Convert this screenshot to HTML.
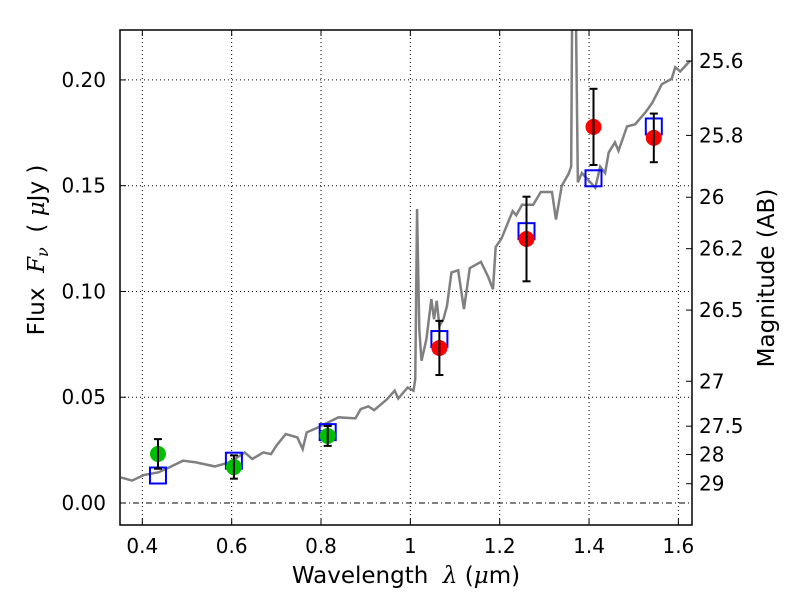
<!DOCTYPE html>
<html><head><meta charset="utf-8"><style>
body{margin:0;background:#fff;}
svg text{font-family:"DejaVu Sans","Liberation Sans",sans-serif;font-size:20px;fill:#000;}
svg text.title{font-size:23px;}
</style></head><body>
<svg id="chart" width="800" height="600" xmlns="http://www.w3.org/2000/svg"></svg>
<script>
const specLam=[0.352,0.377,0.403,0.436,0.461,0.491,0.520,0.562,0.596,0.629,0.646,0.671,0.688,0.700,0.721,0.747,0.759,0.768,0.793,0.839,0.877,0.889,0.906,0.919,0.948,0.965,0.973,0.994,1.007,1.011,1.015,1.020,1.025,1.036,1.047,1.053,1.059,1.065,1.074,1.082,1.092,1.107,1.120,1.133,1.158,1.174,1.185,1.191,1.204,1.229,1.237,1.250,1.275,1.292,1.317,1.326,1.339,1.354,1.360,1.363,1.369,1.375,1.384,1.403,1.414,1.425,1.436,1.444,1.458,1.466,1.485,1.503,1.526,1.541,1.563,1.585,1.593,1.604,1.626];
const specFlux=[0.0121,0.0106,0.0132,0.0145,0.0169,0.020,0.0192,0.0173,0.0192,0.0239,0.0208,0.0239,0.0231,0.0271,0.0326,0.031,0.0255,0.0334,0.0357,0.0405,0.040,0.0444,0.0457,0.0439,0.0491,0.0531,0.0494,0.0546,0.0531,0.0586,0.139,0.082,0.0672,0.0775,0.0964,0.0869,0.0956,0.0838,0.0869,0.0932,0.109,0.110,0.0917,0.111,0.114,0.107,0.101,0.121,0.125,0.138,0.136,0.141,0.141,0.147,0.147,0.134,0.150,0.1555,0.159,0.26,0.26,0.1516,0.156,0.1516,0.149,0.159,0.156,0.1657,0.1705,0.1665,0.178,0.179,0.1846,0.189,0.198,0.2005,0.206,0.204,0.209];
const modelLam=[0.435,0.605,0.815,1.065,1.26,1.41,1.545];
const modelFlux=[0.013,0.020,0.0335,0.0775,0.1285,0.1535,0.178];
const greenLam=[0.435,0.605,0.815];
const greenFlux=[0.0232,0.017,0.0317];
const greenErr=[0.007,0.0055,0.0047];
const redLam=[1.065,1.26,1.41,1.545];
const redFlux=[0.0733,0.1248,0.1778,0.1726];
const redErr=[0.0128,0.02,0.018,0.0115];
const xTicks=[0.4,0.6,0.8,1.0,1.2,1.4,1.6];
const xTickLabels=["0.4","0.6","0.8","1","1.2","1.4","1.6"];
const yTicks=[0,0.05,0.10,0.15,0.20];
const yTickLabels=["0.00","0.05","0.10","0.15","0.20"];
const magTicks=[25.6,25.8,26,26.2,26.5,27,27.5,28,29];
const magTickLabels=["25.6","25.8","26","26.2","26.5","27","27.5","28","29"];

const L=120,R=692,T=30,B=525,xmin=0.35,xmax=1.6305,ymin=-0.0104,ymax=0.2236;
const sx=v=>L+(v-xmin)/(xmax-xmin)*(R-L);
const sy=v=>B-(v-ymin)/(ymax-ymin)*(B-T);
const NS="http://www.w3.org/2000/svg";
const svg=document.getElementById('chart');
function mk(tag,attrs,parent){const e=document.createElementNS(NS,tag);for(const k in attrs)e.setAttribute(k,attrs[k]);(parent||svg).appendChild(e);return e;}

const defs=mk('defs',{});
const cp=mk('clipPath',{id:'clip'},defs);mk('rect',{x:L,y:T,width:R-L,height:B-T},cp);

const grid=mk('g',{});


xTicks.forEach(v=>{mk('line',{x1:sx(v),x2:sx(v),y1:T,y2:B,stroke:'#000','stroke-width':1,'stroke-dasharray':'1,3'},grid);});
yTicks.forEach(v=>{if(v!==0)mk('line',{x1:L,x2:R,y1:sy(v),y2:sy(v),stroke:'#000','stroke-width':1,'stroke-dasharray':'1,3'},grid);});
const zl=mk('line',{x1:L,x2:R,y1:sy(0),y2:sy(0),stroke:'#000','stroke-width':1,'stroke-dasharray':'6,3,1,3'});



const sp=mk('polyline',{points:specLam.map((l,i)=>sx(l)+','+sy(specFlux[i])).join(' '),fill:'none',stroke:'#808080','stroke-width':2.5,'clip-path':'url(#clip)'});



modelLam.forEach((l,i)=>{
 const r=mk('rect',{x:sx(l)-8,y:sy(modelFlux[i])-8,width:16,height:16,fill:'none',stroke:'#0000ff','stroke-width':2});
 
 
});
function pts(lams,fl,er,col,name){
 lams.forEach((l,i)=>{
  const g=mk('g',{});
  
  
  mk('circle',{cx:sx(l),cy:sy(fl[i]),r:8,fill:col},g);
  const x=sx(l),y1=sy(fl[i]+er[i]),y2=sy(fl[i]-er[i]);
  mk('line',{x1:x,x2:x,y1:y1,y2:y2,stroke:'#000','stroke-width':2},g);
  mk('line',{x1:x-4,x2:x+4,y1:y1,y2:y1,stroke:'#000','stroke-width':2},g);
  mk('line',{x1:x-4,x2:x+4,y1:y2,y2:y2,stroke:'#000','stroke-width':2},g);
 });
}
pts(greenLam,greenFlux,greenErr,'#00bf00','ground-photometry-point');
pts(redLam,redFlux,redErr,'#ff0000','hst-photometry-point');

const fr=mk('rect',{x:L,y:T,width:R-L,height:B-T,fill:'none',stroke:'#000','stroke-width':1.5});



xTicks.forEach((v,i)=>{
 mk('line',{x1:sx(v),x2:sx(v),y1:B,y2:B-6,stroke:'#000'});
 mk('line',{x1:sx(v),x2:sx(v),y1:T,y2:T+6,stroke:'#000'});
 const t=mk('text',{x:sx(v),y:B+28,'text-anchor':'middle'});t.textContent=xTickLabels[i];
 
 
});
yTicks.forEach((v,i)=>{
 mk('line',{x1:L,x2:L+6,y1:sy(v),y2:sy(v),stroke:'#000'});
 const t=mk('text',{x:L-14,y:sy(v)+7,'text-anchor':'end'});t.textContent=yTickLabels[i];
 
 
});
magTicks.forEach((m,i)=>{
 const f=Math.pow(10,-(m-23.9)/2.5);
 mk('line',{x1:R,x2:R-6,y1:sy(f),y2:sy(f),stroke:'#000'});
 const t=mk('text',{x:R+7,y:sy(f)+7,'text-anchor':'start'});t.textContent=magTickLabels[i];
 
 
});
const xt=mk('text',{x:406,y:583,'text-anchor':'middle','class':'title'});
xt.innerHTML='Wavelength &#160;<tspan font-style="italic" font-family="DejaVu Serif, serif">λ</tspan> (<tspan font-style="italic" font-family="DejaVu Serif, serif">μ</tspan>m)';


const yt=mk('text',{x:0,y:0,'text-anchor':'middle','class':'title',transform:'translate(44,250) rotate(-90)'});
yt.innerHTML='Flux &#160;<tspan font-style="italic" font-family="DejaVu Serif, serif">F<tspan font-size="16" dy="4">ν</tspan></tspan><tspan dy="-4"> &#160;( </tspan><tspan font-style="italic" font-family="DejaVu Serif, serif">μ</tspan>Jy )';


const rt=mk('text',{x:0,y:0,'text-anchor':'middle','class':'title',transform:'translate(774,278) rotate(-90)'});
rt.textContent='Magnitude (AB)';


</script>
</body></html>
